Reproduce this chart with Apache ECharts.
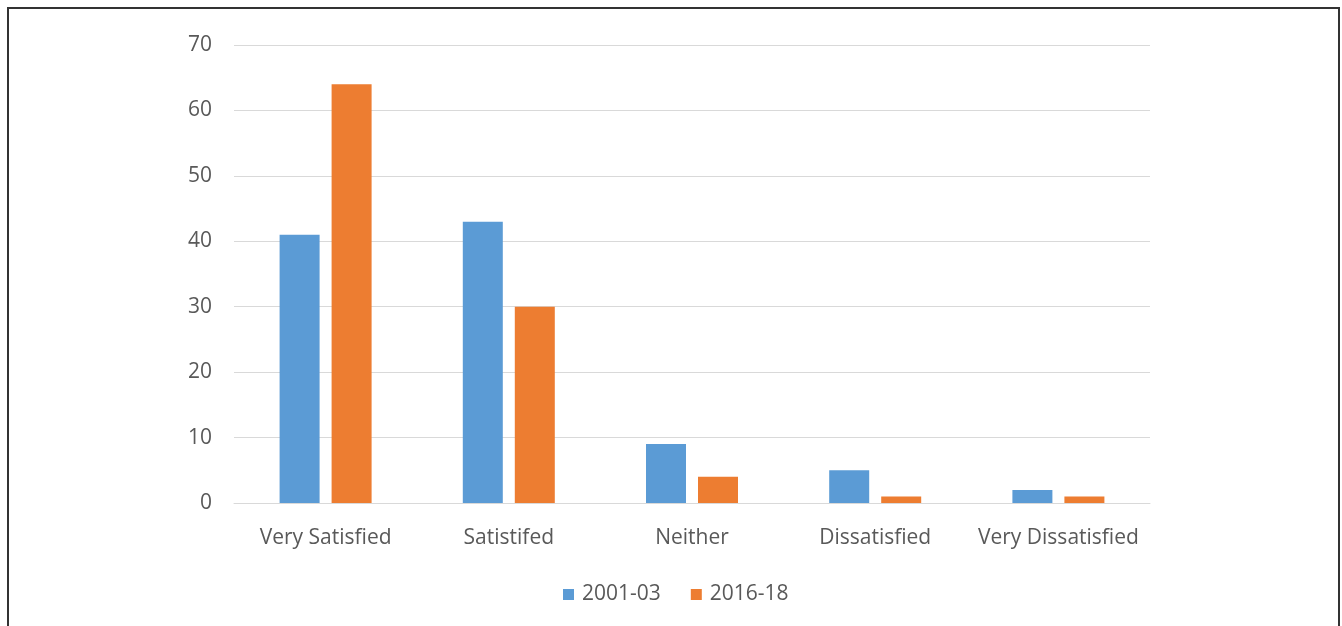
<!DOCTYPE html>
<html>
<head>
<meta charset="utf-8">
<script src="https://cdn.jsdelivr.net/npm/echarts@6/dist/echarts.min.js"></script>
<style>
  html, body { margin: 0; padding: 0; background: #fff; }
  #frame {
    position: absolute; left: 7px; top: 7px; width: 1333px; height: 640px;
    border-left: 2px solid #333; border-top: 2px solid #333; border-right: 2px solid #333;
    box-sizing: border-box;
  }
  #chart { position: absolute; left: 0; top: 0; width: 1342px; height: 626px; }
</style>
</head>
<body>
<div id="frame"></div>
<div id="chart"></div>
<script>
// Satisfaction ratings, percentage of respondents per survey period
const categories = ['Very Satisfied', 'Satistifed', 'Neither', 'Dissatisfied', 'Very Dissatisfied'];
const seriesNames = ['2001-03', '2016-18'];
const values2001 = [41, 43, 9, 5, 2];
const values2016 = [64, 30, 4, 1, 1];

const textColor = '#595959';
const fontFamily = '"Open Sans", Lato, sans-serif';

const chart = echarts.init(document.getElementById('chart'));
chart.setOption({
  animation: false,
  textStyle: { fontFamily: fontFamily },
  grid: { left: 234, right: 192, top: 45, bottom: 123, containLabel: false },
  legend: {
    top: 579,
    left: 558,
    itemWidth: 11,
    itemHeight: 11,
    itemGap: 30,
    icon: 'rect',
    textStyle: { color: textColor, fontSize: 21, fontFamily: fontFamily, padding: [0, 0, 0, 3] },
    data: seriesNames
  },
  xAxis: {
    type: 'category',
    data: categories,
    axisLine: { lineStyle: { color: '#d9d9d9', width: 1 } },
    axisTick: { show: false },
    axisLabel: { color: textColor, fontSize: 21, margin: 25, interval: 0, fontFamily: fontFamily }
  },
  yAxis: {
    type: 'value',
    min: 0,
    max: 70,
    interval: 10,
    axisLine: { show: false },
    axisTick: { show: false },
    axisLabel: { color: textColor, fontSize: 21, margin: 22, fontFamily: fontFamily },
    splitLine: { lineStyle: { color: '#d9d9d9', width: 1 } }
  },
  series: [
    {
      name: seriesNames[0],
      type: 'bar',
      data: values2001,
      barWidth: 40,
      barGap: '30%',
      itemStyle: { color: '#5B9BD5' }
    },
    {
      name: seriesNames[1],
      type: 'bar',
      data: values2016,
      barWidth: 40,
      barGap: '30%',
      itemStyle: { color: '#ED7D31' }
    }
  ]
});
</script>
</body>
</html>
